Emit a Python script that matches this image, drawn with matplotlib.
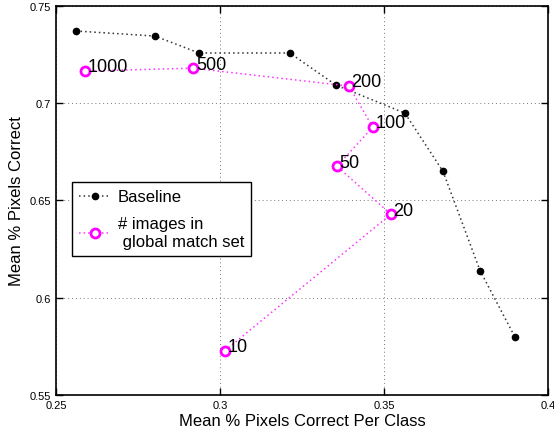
import matplotlib
matplotlib.use("Agg")
import matplotlib.pyplot as plt
from matplotlib.ticker import FormatStrFormatter

plt.rcParams['font.family'] = ['Liberation Sans', 'DejaVu Sans']

base_x = [0.2561, 0.2802, 0.2936, 0.3213, 0.3354, 0.3564, 0.3680, 0.3793, 0.3899]
base_y = [0.7371, 0.7345, 0.7258, 0.7258, 0.7093, 0.6949, 0.6650, 0.6140, 0.5800]

gm_x = [0.2588, 0.2918, 0.3393, 0.3466, 0.3357, 0.3521, 0.3015]
gm_y = [0.7165, 0.7180, 0.7088, 0.6877, 0.6676, 0.6429, 0.5728]
gm_labels = ['1000', '500', '200', '100', '50', '20', '10']

xticks = [0.25, 0.3, 0.35, 0.4]
yticks = [0.55, 0.6, 0.65, 0.7, 0.75]

fig = plt.figure(figsize=(5.54, 4.31), dpi=100)
ax = fig.add_axes([0.101, 0.081, 0.888, 0.903])

ax.plot(base_x, base_y, color='#333333', linestyle=(0, (1, 2)), linewidth=1.1,
        marker='o', markersize=4.5, markerfacecolor='black', markeredgecolor='black',
        label='Baseline')
ax.plot(gm_x, gm_y, color='#ff33ff', linestyle=(0, (1, 2)), linewidth=1.1,
        marker='o', markersize=6.5, markerfacecolor='white', markeredgecolor='#ff00ff',
        markeredgewidth=2.0, label='# images in\n global match set')

for x, y, t in zip(gm_x, gm_y, gm_labels):
    ax.annotate(t, (x, y), xytext=(2, 3), textcoords='offset points',
                fontsize=13, va='center', ha='left')

ax.set_xlim(0.25, 0.4)
ax.set_ylim(0.55, 0.75)
ax.set_xticks(xticks)
ax.set_yticks(yticks)
ax.xaxis.set_major_formatter(FormatStrFormatter('%g'))
ax.yaxis.set_major_formatter(FormatStrFormatter('%g'))
ax.tick_params(direction='in', top=True, right=True, labelsize=8, length=5, width=1)
ax.grid(True, color='#777777', linestyle=(0, (1, 3)), linewidth=0.7)
for s in ax.spines.values():
    s.set_linewidth(1.2)

ax.set_xlabel('Mean % Pixels Correct Per Class', fontsize=12, labelpad=2)
ax.set_ylabel('Mean % Pixels Correct', fontsize=12, labelpad=4)

leg = ax.legend(loc='upper left', bbox_to_anchor=(0.032, 0.5476), fontsize=12,
                frameon=True, fancybox=False, edgecolor='black', framealpha=1,
                handlelength=1.9, borderpad=0.45, labelspacing=0.7, handletextpad=0.4,
                borderaxespad=0)
leg.get_frame().set_linewidth(1.0)

fig.savefig('out.png', dpi=100)
